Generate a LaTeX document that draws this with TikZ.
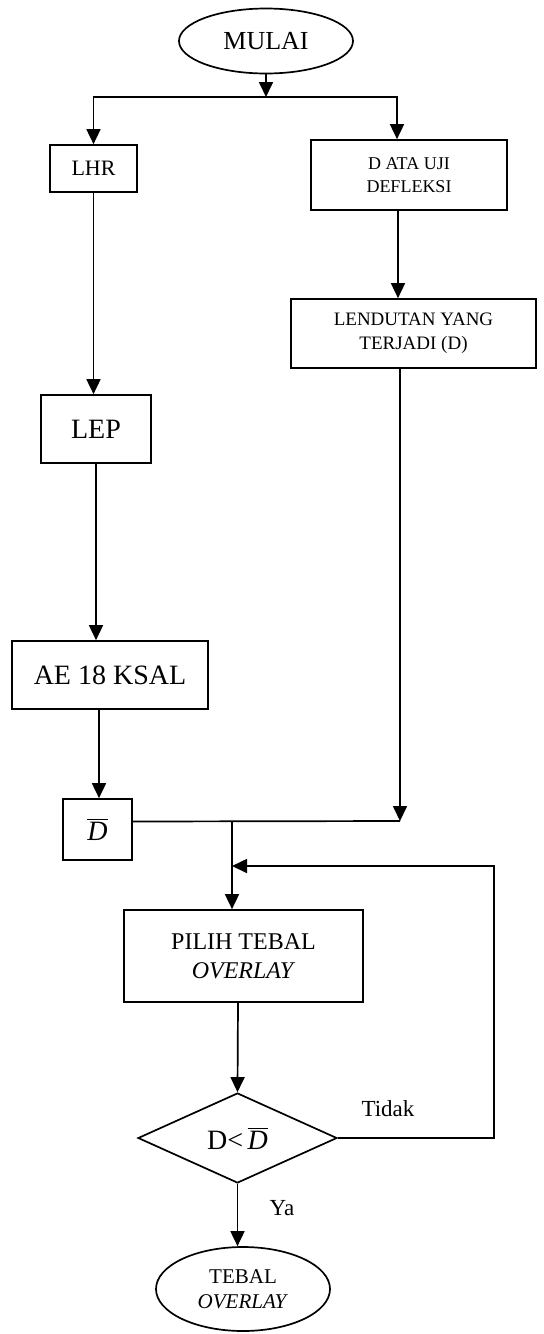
\documentclass[tikz,border=0pt]{standalone}
\usepackage{fontspec}
\setmainfont{Liberation Serif}
\usetikzlibrary{shapes.geometric,arrows.meta}
\begin{document}
\begin{tikzpicture}[x=0.5pt,y=-0.5pt,
  line width=0.85pt,
  arr/.style={-{Triangle[length=7.5pt,width=7pt]}},
  box/.style={draw,rectangle,inner sep=0pt,align=center},
  oval/.style={draw,ellipse,inner sep=0pt,align=center},
  dec/.style={draw,diamond,shape aspect=2.2,inner sep=0pt,align=center}]
\useasboundingbox (0,0) rectangle (544,1334);
% nodes
\node[oval,minimum width=87pt,minimum height=32.5pt,font=\fontsize{13}{15}\selectfont] (mulai) at (266,41) {MULAI};
\node[box,minimum width=43.5pt,minimum height=23.5pt,font=\fontsize{11}{13}\selectfont] (lhr) at (93.5,168.5) {LHR};
\node[box,minimum width=98pt,minimum height=35pt,font=\fontsize{9}{11.5}\selectfont] (data) at (409,175) {D ATA UJI\\DEFLEKSI};
\node[box,minimum width=122.5pt,minimum height=34.5pt,font=\fontsize{9.5}{12}\selectfont] (lend) at (413.5,333.5) {LENDUTAN YANG\\TERJADI (D)};
\node[box,minimum width=55pt,minimum height=34pt,font=\fontsize{14}{16}\selectfont] (lep) at (96,429) {LEP};
\node[box,minimum width=98pt,minimum height=34pt,font=\fontsize{14}{16}\selectfont] (ae) at (110,675) {AE 18 KSAL};
\node[box,minimum width=34.5pt,minimum height=30.5pt,font=\fontsize{14}{16}\selectfont] (dbar) at (97.5,829.5) {$\overline{\textit{D}}$};
\node[box,minimum width=119.5pt,minimum height=46pt,font=\fontsize{12}{14.5}\selectfont] (pilih) at (243.5,956) {PILIH TEBAL\\\textit{OVERLAY}};
\node[dec,minimum width=99.5pt,minimum height=45pt,font=\fontsize{14}{16}\selectfont] (cek) at (237.5,1138) {D<\,$\overline{\textit{D}}$};
\node[oval,minimum width=87pt,minimum height=42pt,font=\fontsize{10.5}{12.5}\selectfont] (tebal) at (243,1289) {TEBAL\\\textit{OVERLAY}};
\node[font=\fontsize{11.5}{13}\selectfont] (tidak) at (388,1109) {Tidak};
\node[font=\fontsize{11.5}{13}\selectfont] (ya) at (282,1208) {Ya};
% helper coordinates
\coordinate (split) at (266,97);
\coordinate (j) at (400,821);
\coordinate (m) at (232,821);
\coordinate (fb) at (494,866);
% connectors
\draw[arr] (mulai.south) -- (split);
\draw[arr] (split) -| (lhr.north);
\draw[arr] (split) -| ([xshift=-6pt]data.north);
\draw[arr] ([xshift=-5.5pt]data.south) -- ([xshift=-7.75pt]lend.north);
\draw[arr] (lhr.south) -- (lhr.south |- lep.north);
\draw[arr] (lep.south) -- (lep.south |- ae.north);
\draw[arr] ([xshift=-5.5pt]ae.south) -- ([xshift=-5.5pt]ae.south |- dbar.north);
\draw[arr] ([xshift=-6.75pt]lend.south) -- ([xshift=-6.75pt]lend.south |- j);
\draw ([yshift=4pt]dbar.east) -- ([xshift=-6.75pt]lend.south |- j);
\draw[arr] (m) -- (m |- pilih.north);
\draw[arr] ([xshift=-2.75pt]pilih.south) -- (cek.north);
\draw[arr] (cek.east) -| (fb) -- (m |- fb);
\draw[arr] (cek.south) -- (cek.south |- tebal.north);
\end{tikzpicture}
\end{document}
